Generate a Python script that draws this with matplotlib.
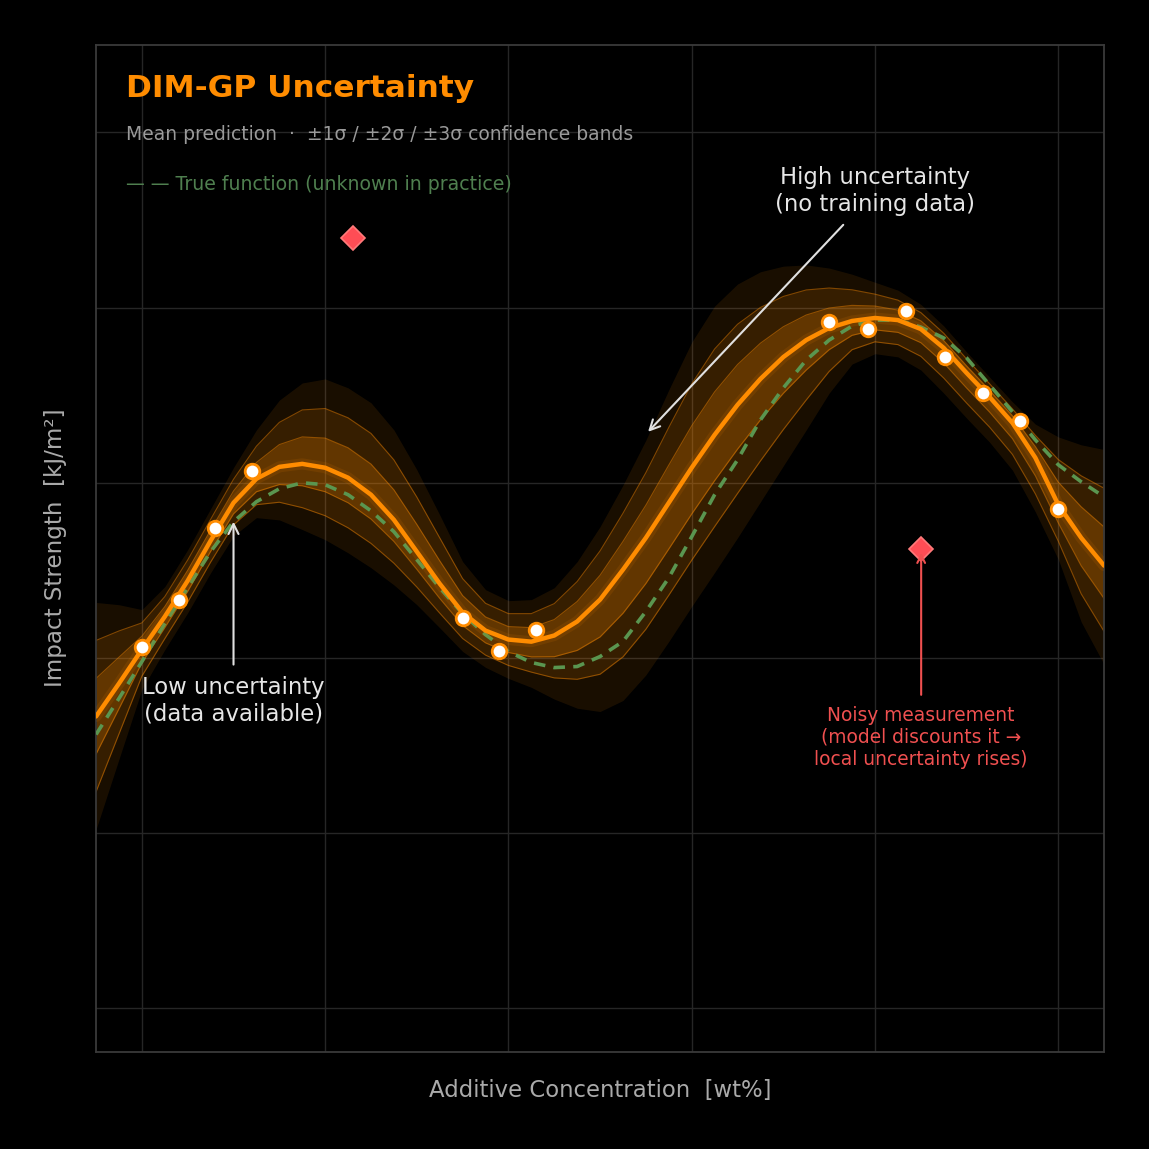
import numpy as np
import matplotlib
matplotlib.use("Agg")
import matplotlib.pyplot as plt

# ---------------- data ----------------
x_grid = np.linspace(-0.25, 5.25, 45)

mean_pred = [-1.334, -1.146, -0.952, -0.764, -0.559, -0.331, -0.114, 0.023, 0.091, 0.108,
             0.086, 0.029, -0.068, -0.211, -0.393, -0.576, -0.741, -0.844, -0.895, -0.907,
             -0.872, -0.792, -0.667, -0.496, -0.314, -0.114, 0.086, 0.274, 0.445, 0.593,
             0.718, 0.815, 0.884, 0.924, 0.941, 0.929, 0.878, 0.770, 0.627, 0.490,
             0.342, 0.143, -0.125, -0.314, -0.473]

true_func = [-1.437, -1.231, -1.021, -0.804, -0.599, -0.393, -0.222, -0.108, -0.034, 0.000,
             -0.011, -0.068, -0.160, -0.279, -0.439, -0.599, -0.747, -0.867, -0.964, -1.026,
             -1.055, -1.049, -0.992, -0.906, -0.735, -0.542, -0.308, -0.068, 0.131, 0.359,
             0.542, 0.701, 0.815, 0.895, 0.929, 0.929, 0.889, 0.827, 0.713, 0.559,
             0.405, 0.245, 0.103, 0.006, -0.080]

sigma_up = [0.217, 0.150, 0.076, 0.057, 0.059, 0.061, 0.067, 0.093, 0.127, 0.154,
            0.169, 0.171, 0.175, 0.171, 0.156, 0.131, 0.097, 0.078, 0.074, 0.080,
            0.091, 0.114, 0.139, 0.161, 0.186, 0.215, 0.239, 0.245, 0.230, 0.204,
            0.173, 0.143, 0.114, 0.089, 0.068, 0.057, 0.047, 0.042, 0.040, 0.038,
            0.040, 0.064, 0.129, 0.177, 0.221]

sigma_dn = [0.215, 0.144, 0.076, 0.063, 0.061, 0.061, 0.063, 0.074, 0.101, 0.125,
            0.137, 0.143, 0.139, 0.124, 0.101, 0.084, 0.074, 0.070, 0.074, 0.087,
            0.121, 0.165, 0.213, 0.249, 0.261, 0.264, 0.264, 0.262, 0.253, 0.234,
            0.207, 0.171, 0.124, 0.082, 0.068, 0.070, 0.078, 0.086, 0.086, 0.086,
            0.090, 0.103, 0.104, 0.160, 0.188]

train_x = [0.0, 0.2, 0.4, 0.6, 1.75, 1.95, 2.15, 3.75, 3.96, 4.17, 4.38, 4.59, 4.79, 5.0]
train_y = [-0.94, -0.67, -0.26, 0.07, -0.77, -0.96, -0.84, 0.92, 0.88, 0.98, 0.72, 0.51, 0.35, -0.15]

noisy_x = [1.15, 4.25]
noisy_y = [1.40, -0.38]

x_ticks = [0, 1, 2, 3, 4, 5]
y_ticks = [-3, -2, -1, 0, 1, 2]

# ---------------- styling ----------------
ORANGE = "#ff8c00"
GREEN = "#5a9650"
BG = "#000000"

mu = np.array(mean_pred)
su = np.array(sigma_up)
sd = np.array(sigma_dn)

fig = plt.figure(figsize=(11.49, 11.49), dpi=100, facecolor=BG)
ax = fig.add_axes([0.0836, 0.0844, 0.8773, 0.8765])
ax.set_facecolor(BG)

ax.set_xlim(-0.25, 5.25)
ax.set_ylim(-3.25, 2.5)
ax.set_xticks(x_ticks)
ax.set_yticks(y_ticks)
ax.tick_params(length=0, labelbottom=False, labelleft=False)
ax.grid(True, color="#262626", linewidth=1.0)
ax.set_axisbelow(True)
for s in ax.spines.values():
    s.set_color("#3a3a3a")
    s.set_linewidth(1.3)

# confidence bands (3σ, 2σ, 1σ)
for k, a in [(3, 0.10), (2, 0.13), (1, 0.22)]:
    ax.fill_between(x_grid, mu - k * sd, mu + k * su, color=ORANGE, alpha=a,
                    linewidth=0, zorder=2)
for k in (1, 2):
    ax.plot(x_grid, mu + k * su, color=ORANGE, lw=0.8, alpha=0.45, zorder=2.5)
    ax.plot(x_grid, mu - k * sd, color=ORANGE, lw=0.8, alpha=0.45, zorder=2.5)

# true function
ax.plot(x_grid, true_func, color=GREEN, lw=2.6, linestyle=(0, (3.2, 2.3)), zorder=3)

# mean prediction with glow
ax.plot(x_grid, mu, color=ORANGE, lw=8, alpha=0.10, zorder=3.5, solid_capstyle="round",
        solid_joinstyle="round")
ax.plot(x_grid, mu, color=ORANGE, lw=3.2, zorder=4, solid_capstyle="round",
        solid_joinstyle="round")

# training points
ax.plot(train_x, train_y, linestyle="none", marker="o", ms=10.5, mfc="white",
        mec=ORANGE, mew=2.0, zorder=6)

# noisy points
ax.plot(noisy_x, noisy_y, linestyle="none", marker="D", ms=12, mfc="#ff4d55",
        mec="#ff7a7a", mew=1.2, zorder=6)

# ---------------- texts ----------------
ax.text(0.0298, 0.957, "DIM-GP Uncertainty", transform=ax.transAxes, color=ORANGE,
        fontsize=22.5, fontweight="bold", ha="left", va="center")
ax.text(0.0298, 0.9106, "Mean prediction  ·  ±1σ / ±2σ / ±3σ confidence bands",
        transform=ax.transAxes, color="#9a9a9a", fontsize=13.5, ha="left", va="center")
ax.text(0.0298, 0.861, "— — True function (unknown in practice)",
        transform=ax.transAxes, color="#4f7f4f", fontsize=13.6, ha="left", va="center")

ax.annotate("High uncertainty\n(no training data)", xy=(2.762, 0.291), xytext=(4.0, 1.665),
            ha="center", va="center", color="#e6e6e6", fontsize=16.4,
            arrowprops=dict(arrowstyle="->", color="#e0e0e0", lw=1.5, shrinkA=6, shrinkB=0,
                            mutation_scale=18),
            zorder=8)
ax.annotate("Low uncertainty\n(data available)", xy=(0.5, -0.222), xytext=(0.5, -1.243),
            ha="center", va="center", color="#e6e6e6", fontsize=16.4,
            arrowprops=dict(arrowstyle="->", color="#e0e0e0", lw=1.5, shrinkA=6, shrinkB=0,
                            mutation_scale=18),
            zorder=8)
ax.annotate("Noisy measurement\n(model discounts it →\nlocal uncertainty rises)",
            xy=(4.252, -0.40), xytext=(4.252, -1.454),
            ha="center", va="center", color="#f05050", fontsize=13.4,
            arrowprops=dict(arrowstyle="->", color="#f05050", lw=1.5, shrinkA=6, shrinkB=0,
                            mutation_scale=14),
            zorder=8)

fig.text(0.522, 0.0505, "Additive Concentration  [wt%]", color="#aaaaaa", fontsize=16.4,
         ha="center", va="center")
fig.text(0.0479, 0.523, "Impact Strength  [kJ/m²]", color="#aaaaaa", fontsize=16.6,
         ha="center", va="center", rotation=90)

fig.savefig("out.png", dpi=100, facecolor=BG)
